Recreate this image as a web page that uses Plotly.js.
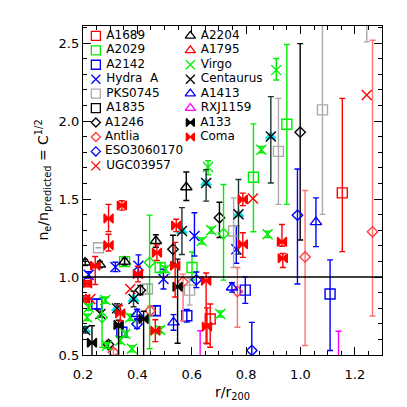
<!DOCTYPE html>
<html>
<head>
<meta charset="utf-8">
<script src="https://cdn.plot.ly/plotly-3.0.1.min.js"></script>
<style>
  html, body { margin: 0; padding: 0; background: #fff; }
  #plot { width: 407px; height: 407px; }
</style>
</head>
<body>
<div id="plot"></div>
<script>
// values: x = r/r200, y = n_e/n_predicted, up/dn = error bar lengths
const a1689X = [1.154, 0.668];
const a1689Y = [1.540, 0.731];
const a1689Up = [0.606, 0.096];
const a1689Dn = [0.377, 0.181];

const a2029X = [0.950, 0.827, 0.353, 0.484, 0.601];
const a2029Y = [1.980, 1.640, 1.099, 1.061, 1.061];
const a2029Up = [0.511, 0.342, 0.03, 0.03, 0.10];
const a2029Dn = [0.514, 0.350, 0.03, 0.03, 0.08];

const a2142X = [1.109, 0.797, 0.582, 0.466, 0.343, 0.251];
const a2142Y = [0.891, 0.916, 0.752, 0.784, 0.646, 0.827];
const a2142Up = [0.219, 0.085, 0.04, 0.03, 0.03, 0.03];
const a2142Dn = [0.362, 0.085, 0.04, 0.03, 0.03, 0.03];

const hydraX = [0.221, 0.319, 0.404, 0.496, 0.610, 0.764];
const hydraY = [1.014, 1.065, 1.072, 0.987, 1.263, 1.178];
const hydraUp = [0.02, 0.03, 0.07, 0.063, 0.149, 0.15];
const hydraDn = [0.02, 0.03, 0.07, 0.064, 0.128, 0.09];

const pksX = [1.081, 0.919, 0.754, 0.592, 0.437, 0.257, 1.244];
const pksY = [2.072, 1.806, 1.295, 0.916, 0.923, 1.188, 2.80];
const pksUp = [0.70, 0.34, 0.213, 0.074, 0.03, 0.0, 0.2];
const pksDn = [0.670, 0.34, 0.234, 0.096, 0.03, 0.0, 0.292];

const a1835X = [];
const a1835Y = [];

const a1246X = [0.999, 0.702, 0.531, 0.411, 0.294];
const a1246Y = [1.929, 1.380, 1.178, 0.916, 0.567];
const a1246Up = [0.568, 0.10, 0.09, 0.03, 0.02];
const a1246Dn = [0.691, 0.126, 0.09, 0.03, 0.02];

const antliaX = [1.265, 1.017, 0.768, 0.568, 0.447, 0.312];
const antliaY = [1.290, 1.129, 0.907, 0.969, 0.784, 0.518];
const antliaUp = [1.229, 0.426, 0.154, 0.05, 0.03, 0.02];
const antliaDn = [0.540, 0.568, 0.229, 0.249, 0.03, 0.02];

const esoX = [0.989, 0.821, 0.617, 0.399];
const esoY = [1.397, 0.529, 0.982, 0.699];
const esoUp = [0.296, 0.180, 0.05, 0.03];
const esoDn = [0.442, 0.05, 0.05, 0.03];

const ugcX = [1.244, 0.825, 0.374, 0.227];
const ugcY = [2.168, 1.504, 0.923, 0.859];

const a2204X = [0.580, 0.468, 0.353, 0.208, 0.262];
const a2204Y = [1.576, 1.231, 1.099, 1.093, 1.080];
const a2204Up = [0.098, 0.04, 0.02, 0.02, 0.02];
const a2204Dn = [0.085, 0.04, 0.02, 0.02, 0.02];

const a1795X = [];
const a1795Y = [];

const virgoX = [0.911, 0.856, 0.660, 0.879, 0.672, 0.637, 0.503, 0.705, 0.484, 0.380, 0.374, 0.356, 0.282, 0.221, 0.215, 0.288, 0.337];
const virgoY = [2.327, 1.817, 1.706, 1.274, 1.300, 1.231, 1.050, 0.763, 0.661, 0.540, 0.741, 0.635, 0.852, 0.805, 0.741, 0.561, 0.593];
const virgoUp = [0.075, 0.02, 0.04, 0.02, 0.02, 0.02, 0.02, 0.02, 0.02, 0.02, 0.02, 0.02, 0.02, 0.02, 0.02, 0.02, 0.02];
const virgoDn = [0.063, 0.02, 0.05, 0.02, 0.02, 0.02, 0.02, 0.02, 0.02, 0.02, 0.02, 0.02, 0.02, 0.02, 0.02, 0.02, 0.02];

const centX = [0.891, 0.653, 0.772, 0.564, 0.386, 0.325, 0.264, 0.208];
const centY = [1.902, 1.603, 1.402, 1.295, 0.859, 0.799, 0.763, 0.661];
const centUp = [0.255, 0.086, 0.224, 0.15, 0.05, 0.03, 0.02, 0.02];
const centDn = [0.299, 0.116, 0.255, 0.15, 0.05, 0.03, 0.02, 0.02];

// cyan triangles sitting under the Centaurus crosses (not in the legend)
const cyanX = [0.891, 0.653, 0.772, 0.564, 0.386, 0.325, 0.208];
const cyanY = [1.902, 1.603, 1.402, 1.295, 0.859, 0.799, 0.661];

const a1413X = [1.057, 0.748, 0.533, 0.399];
const a1413Y = [1.352, 0.933, 0.709, 0.763];
const a1413Up = [0.156, 0.03, 0.05, 0.03];
const a1413Dn = [0.157, 0.03, 0.05, 0.03];

const rxjX = [1.140, 0.631];
const rxjY = [0.44, 0.44];
const rxjUp = [0.212, 0.216];
const rxjDn = [0, 0];

const a133X = [0.548, 0.423, 0.331, 0.233];
const a133Y = [0.937, 0.731, 0.693, 0.578];
const a133Up = [0.178, 0.05, 0.03, 0.11];
const a133Dn = [0.362, 0.4, 0.2, 0.1];

const comaX = [0.343, 0.294, 0.294, 0.245, 0.402, 0.472, 0.543, 0.539, 0.653, 0.656, 0.466, 0.337, 0.788, 0.788, 0.932, 0.935, 0.215, 0.208];
const comaY = [1.459, 1.376, 1.204, 1.072, 1.019, 1.156, 1.331, 1.072, 0.976, 0.682, 0.656, 0.767, 1.498, 1.210, 1.227, 1.121, 0.958, 0.860];
const comaUp = [0.03, 0.09, 0.07, 0.06, 0.05, 0.05, 0.04, 0.15, 0.05, 0.12, 0.07, 0.05, 0.04, 0.074, 0.11, 0.03, 0.02, 0.02];
const comaDn = [0.03, 0.085, 0.037, 0.12, 0.05, 0.05, 0.04, 0.2, 0.4, 0.11, 0.07, 0.05, 0.04, 0.084, 0.03, 0.06, 0.02, 0.02];

// green diamonds, not in the legend
const gdiaX = [0.445, 0.717, 0.270];
const gdiaY = [1.093, 1.278, 0.741];
const gdiaUp = [0.304, 0.315, 0.128];
const gdiaDn = [0.553, 0.298, 0.192];

const refLevel = 1.0;

const RED = "#ff0000", GREEN = "#00ee00", BLUE = "#0000ff", GRAY = "#aaaaaa";
const BLACK = "#000000", PINK = "#ff3c3c", MAGENTA = "#ff00ff", CYAN = "#00e5ee";

// col/row = place in the two column key
const series = [
    { name: "A1689", x: a1689X, y: a1689Y, up: a1689Up, dn: a1689Dn, symbol: "square-open", color: RED, size: 10, col: 0, row: 0 },
    { name: "A2029", x: a2029X, y: a2029Y, up: a2029Up, dn: a2029Dn, symbol: "square-open", color: GREEN, size: 10, col: 0, row: 1 },
    { name: "A2142", x: a2142X, y: a2142Y, up: a2142Up, dn: a2142Dn, symbol: "square-open", color: BLUE, size: 10, col: 0, row: 2 },
    { name: "Hydra  A", x: hydraX, y: hydraY, up: hydraUp, dn: hydraDn, symbol: "x-thin-open", color: BLUE, size: 10, col: 0, row: 3 },
    { name: "PKS0745", x: pksX, y: pksY, up: pksUp, dn: pksDn, symbol: "square-open", color: GRAY, size: 10, col: 0, row: 4 },
    { name: "A1835", x: a1835X, y: a1835Y, symbol: "square-open", color: BLACK, size: 10, col: 0, row: 5 },
    { name: "A1246", x: a1246X, y: a1246Y, up: a1246Up, dn: a1246Dn, symbol: "diamond-open", color: BLACK, size: 8, col: 0, row: 6 },
    { name: "Antlia", x: antliaX, y: antliaY, up: antliaUp, dn: antliaDn, symbol: "diamond-open", color: PINK, err: "#ff7070", size: 8, col: 0, row: 7 },
    { name: "ESO3060170", x: esoX, y: esoY, up: esoUp, dn: esoDn, symbol: "diamond-open", color: BLUE, size: 8, col: 0, row: 8 },
    { name: "UGC03957", x: ugcX, y: ugcY, symbol: "x-thin-open", color: RED, size: 10, col: 0, row: 9 },
    { name: "A2204", x: a2204X, y: a2204Y, up: a2204Up, dn: a2204Dn, symbol: "triangle-up-open", color: BLACK, size: 10, col: 1, row: 0 },
    { name: "A1795", x: a1795X, y: a1795Y, symbol: "triangle-up-open", color: RED, size: 10, col: 1, row: 1 },
    { name: "Virgo", x: virgoX, y: virgoY, up: virgoUp, dn: virgoDn, symbol: "x-thin-open", color: GREEN, size: 10, col: 1, row: 2 },
    { name: "Centaurus", x: centX, y: centY, up: centUp, dn: centDn, symbol: "x-thin-open", color: BLACK, err: "#1e3232", size: 10, col: 1, row: 3 },
    { name: "A1413", x: a1413X, y: a1413Y, up: a1413Up, dn: a1413Dn, symbol: "triangle-up-open", color: BLUE, size: 10, col: 1, row: 4 },
    { name: "RXJ1159", x: rxjX, y: rxjY, up: rxjUp, dn: rxjDn, symbol: "triangle-up-open", color: MAGENTA, size: 10, col: 1, row: 5 },
    { name: "A133", x: a133X, y: a133Y, up: a133Up, dn: a133Dn, symbol: "bowtie", color: BLACK, size: 9, col: 1, row: 6 },
    { name: "Coma", x: comaX, y: comaY, up: comaUp, dn: comaDn, symbol: "bowtie", color: RED, size: 9, col: 1, row: 7 }
];

const extras = [
    { x: gdiaX, y: gdiaY, up: gdiaUp, dn: gdiaDn, symbol: "diamond-open", color: GREEN, size: 8 },
    { x: cyanX, y: cyanY, symbol: "triangle-up", color: CYAN, size: 9 }
];

function pointTrace(s) {
    const t = {
        type: "scatter",
        mode: "markers",
        x: s.x,
        y: s.y,
        showlegend: false,
        hoverinfo: "skip",
        marker: { symbol: s.symbol, size: s.size, color: s.color, line: { width: 1.4, color: s.color } }
    };
    if (s.up) {
        t.error_y = {
            type: "data", symmetric: false,
            array: s.up, arrayminus: s.dn,
            color: s.err || s.color, thickness: 1.4, width: 3
        };
    }
    return t;
}

// key entries live on a hidden 0..1 axis pair over the plot
const keyColX = [0.043, 0.359];
const keyTop = 0.970;
const keyStep = 0.0439;

function keyTrace(s) {
    return {
        type: "scatter",
        mode: "markers+text",
        xaxis: "x2",
        yaxis: "y2",
        x: [keyColX[s.col]],
        y: [keyTop - s.row * keyStep],
        text: [" " + s.name],
        textposition: "middle right",
        textfont: { family: "DejaVu Sans", size: 12, color: "#000" },
        cliponaxis: false,
        showlegend: false,
        hoverinfo: "skip",
        marker: { symbol: s.symbol, size: s.size - 1, color: s.color, line: { width: 1.3, color: s.color } }
    };
}

const traces = [];
traces.push(pointTrace(extras[1]));
series.forEach(s => traces.push(pointTrace(s)));
traces.push(pointTrace(extras[0]));
series.forEach(s => traces.push(keyTrace(s)));

const axisCommon = {
    showline: true,
    linecolor: "#000",
    linewidth: 1.2,
    mirror: "allticks",
    ticks: "inside",
    ticklen: 8,
    tickwidth: 1,
    tickcolor: "#000",
    showgrid: false,
    zeroline: false,
    tickfont: { family: "DejaVu Sans", size: 13, color: "#000" },
    tickformat: ".1f"
};

const layout = {
    width: 407,
    height: 407,
    margin: { l: 83, r: 25, t: 26, b: 52 },
    paper_bgcolor: "#fff",
    plot_bgcolor: "#fff",
    showlegend: false,
    font: { family: "DejaVu Sans", color: "#000" },
    xaxis: Object.assign({}, axisCommon, {
        range: [0.2, 1.3],
        tick0: 0.2,
        dtick: 0.2,
        ticklabelstandoff: 7,
        minor: { dtick: 0.05, tick0: 0.2, ticks: "inside", ticklen: 4, tickcolor: "#000" },
        title: { text: "r/r<sub>200</sub>", font: { family: "DejaVu Sans", size: 14 }, standoff: 6 }
    }),
    yaxis: Object.assign({}, axisCommon, {
        range: [0.5, 2.61],
        tick0: 0.5,
        dtick: 0.5,
        minor: { dtick: 0.1, tick0: 0.5, ticks: "inside", ticklen: 4, tickcolor: "#000" }
    }),
    xaxis2: { overlaying: "x", anchor: "y2", range: [0, 1], visible: false, fixedrange: true },
    yaxis2: { overlaying: "y", anchor: "x2", range: [0, 1], visible: false, fixedrange: true },
    shapes: [{
        type: "line", xref: "paper", x0: 0, x1: 1, yref: "y", y0: refLevel, y1: refLevel,
        line: { color: "#000", width: 1.4 }
    }],
    annotations: [{
        text: "n<sub>e</sub>/n<sub>predicted</sub> = C<sup>1/2</sup>",
        xref: "paper", yref: "paper", x: -0.133, y: 0.531,
        textangle: -90, showarrow: false,
        xanchor: "center", yanchor: "middle",
        font: { family: "DejaVu Sans", size: 14, color: "#000" }
    }]
};

Plotly.newPlot("plot", traces, layout, { displayModeBar: false, staticPlot: true });
</script>
</body>
</html>
